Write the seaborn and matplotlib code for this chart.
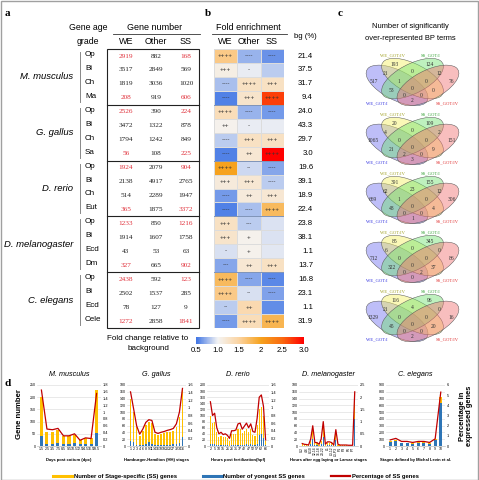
import numpy as np
import pandas as pd
import matplotlib
matplotlib.use("Agg")
import matplotlib.pyplot as plt
import seaborn as sns
from matplotlib.colors import LinearSegmentedColormap
from matplotlib.patches import Ellipse, Rectangle
from matplotlib.lines import Line2D

W, H = 479, 480

# ---------------- data: panel a ----------------
SPECIES = ["M. musculus", "G. gallus", "D. rerio", "D. melanogaster", "C. elegans"]
GRADES = [["Op", "Bi", "Ch", "Ma"], ["Op", "Bi", "Ch", "Sa"], ["Op", "Bi", "Ch", "Eut"],
          ["Op", "Bi", "Ecd", "Dm"], ["Op", "Bi", "Ecd", "Cele"]]
WE_N = [2919, 3517, 1819, 208, 2526, 3472, 1794, 56, 1924, 2138, 514, 365,
        1233, 1914, 43, 327, 2438, 2502, 78, 1272]
OTHER_N = [882, 2849, 3036, 919, 390, 1322, 1242, 108, 2079, 4917, 2289, 1875,
           850, 1607, 53, 665, 592, 1537, 127, 2858]
SS_N = [168, 569, 1020, 606, 224, 878, 849, 225, 904, 2765, 1947, 3372,
        1216, 1758, 63, 902, 123, 285, 9, 1841]

# ---------------- data: panel b ----------------
BG_PCT = ["21.4", "37.5", "31.7", "9.4", "24.0", "43.3", "29.7", "3.0", "19.6", "39.1",
          "18.9", "22.4", "23.8", "38.1", "1.1", "13.7", "16.8", "23.1", "1.1", "31.9"]
FOLD_WE = [1.6, 1.1, 0.8, 0.55, 1.35, 1.05, 0.85, 0.55, 2.0, 1.15, 0.65, 0.55,
           1.3, 1.25, 0.92, 0.7, 1.75, 1.6, 0.85, 0.65]
FOLD_OTHER = [0.75, 0.97, 1.3, 1.25, 0.75, 0.97, 1.3, 1.2, 0.9, 1.2, 1.15, 0.8,
              0.85, 1.05, 1.05, 1.2, 0.7, 0.92, 1.4, 1.35]
FOLD_SS = [0.62, 0.85, 1.3, 2.7, 0.65, 0.97, 1.3, 3.0, 0.7, 0.85, 1.2, 1.75,
           0.93, 0.93, 0.95, 1.3, 0.58, 0.68, 0.6, 1.8]
SIG_WE = ["++++", "+++", "----", "----", "++++", "++", "----", "----", "++++", "+++",
          "----", "----", "+++", "+++", "-", "---", "++++", "++++", "--", "----"]
SIG_OTHER = ["----", "-", "++++", "+++", "----", "-", "+++", "++", "--", "+++",
             "++", "----", "---", "+", "+", "++", "----", "--", "++", "++++"]
SIG_SS = ["----", "", "+++", "++++", "----", "", "+++", "++++", "----", "----",
          "+++", "++++", "", "", "", "+++", "----", "----", "", "++++"]
CBAR_TICKS = [0.5, 1.0, 1.5, 2.0, 2.5, 3.0]
CBAR_LABELS = ["0.5", "1.0", "1.5", "2", "2.5", "3.0"]

# ---------------- data: panel c ----------------
VENN_REGIONS = ["B", "Y", "G", "R", "BY", "YG", "GR", "BYG", "YGR", "BG", "BYGR", "YR", "BGR", "BYR", "BR"]
VENN_MUS = [517, 193, 124, 76, 21, 0, 12, 1, 0, 53, 0, 0, 0, 0, 2]
VENN_GAL = [1065, 20, 109, 151, 4, 0, 2, 0, 0, 21, 0, 9, 2, 0, 3]
VENN_RER = [669, 391, 155, 306, 62, 23, 12, 1, 0, 48, 0, 4, 0, 0, 1]
VENN_MEL = [712, 85, 345, 86, 6, 0, 0, 0, 0, 322, 0, 37, 0, 2, 0]
VENN_ELE = [1329, 116, 96, 16, 21, 4, 0, 0, 0, 45, 0, 20, 0, 0, 2]
VENN_SETS = ["WE_GOT:I", "WE_GOT:IV", "SS_GOT:I", "SS_GOT:IV"]

# ---------------- data: panel d ----------------
MUS_STAGES = ["1.5", "2.5", "3.5", "7.5", "8.5", "9.5", "10.5", "12.5", "14.5", "16.5", "18.5"]
MUS_SS = [200, 58, 58, 67, 40, 40, 44, 24, 31, 31, 228]
MUS_YOUNG = [42, 10, 10, 12, 10, 10, 12, 8, 8, 8, 55]
MUS_PCT = [1.65, 0.5, 0.48, 0.52, 0.3, 0.3, 0.36, 0.17, 0.24, 0.22, 1.55]

GAL_STAGES = ["1", "2", "3", "4", "6", "8", "9", "11", "14", "16", "18", "19",
              "20", "22", "27", "32", "34", "36"]
GAL_SS = [140, 100, 55, 30, 45, 62, 70, 68, 35, 32, 35, 38, 40, 42, 45, 55, 85, 165]
GAL_YOUNG = [14, 11, 4, 2, 4, 6, 13, 6, 3, 3, 3, 3, 4, 4, 5, 7, 10, 28]
GAL_PCT = [1.42, 0.98, 0.53, 0.31, 0.44, 0.62, 0.69, 0.67, 0.36, 0.33, 0.36, 0.38,
           0.41, 0.43, 0.46, 0.58, 0.89, 1.51]

RER_STAGES = ["2", "3", "5", "8", "10", "12", "15", "18", "21", "24", "26", "28", "31", "34",
              "37", "40", "42", "45", "47", "50", "52", "55", "57", "60", "62", "64", "66"]
RER_SS = [100, 75, 80, 45, 30, 33, 28, 30, 26, 18, 38, 38, 40, 55, 57, 42, 50, 57,
          45, 55, 36, 34, 68, 120, 128, 98, 15]
RER_YOUNG = [8, 5, 6, 3, 2, 2, 2, 2, 2, 1, 3, 3, 3, 4, 4, 3, 4, 5, 4, 5, 3, 3, 8, 35, 40, 25, 2]
RER_PCT = [1.16, 0.8, 0.86, 0.48, 0.32, 0.36, 0.3, 0.32, 0.28, 0.2, 0.4, 0.4, 0.42, 0.58,
           0.6, 0.44, 0.52, 0.6, 0.48, 0.58, 0.38, 0.36, 0.72, 1.28, 1.34, 1.04, 0.16]

MEL_STAGES = ["0-2", "2-4", "4-6", "6-8", "8-10", "10-12", "12-14", "14-16", "16-18",
              "18-20", "20-22", "22-24", "L1", "L2", "L3-12", "L3-P1", "L3-P3", "L3-P7",
              "P1", "P2", "P3", "P4", "P5", "P6", "P7", "Ad"]
MEL_SS = [5, 4, 3, 2, 15, 45, 8, 8, 4, 15, 60, 4, 10, 10, 8, 2, 40, 4, 2, 2, 2, 2, 1, 1, 1, 155]
MEL_YOUNG = [1, 1, 1, 1, 5, 20, 3, 3, 1, 5, 28, 1, 3, 3, 2, 1, 18, 1, 1, 1, 1, 1, 0, 0, 0, 80]
MEL_PCT = [0.1, 0.07, 0.06, 0.04, 0.28, 0.83, 0.14, 0.14, 0.07, 0.28, 1.0, 0.07, 0.17,
           0.17, 0.14, 0.04, 0.67, 0.07, 0.04, 0.04, 0.04, 0.04, 0.03, 0.03, 0.03, 2.22]

ELE_STAGES = ["1", "2", "3", "4", "5", "6", "7", "8", "9", "10"]
ELE_SS = [75, 90, 50, 50, 40, 55, 55, 40, 100, 720]
ELE_YOUNG = [65, 80, 45, 42, 35, 45, 48, 35, 90, 640]
ELE_PCT = [0.6, 0.75, 0.45, 0.45, 0.35, 0.45, 0.45, 0.35, 0.7, 5.3]

# ---------------- style ----------------
SANS = ["Liberation Sans", "DejaVu Sans"]
SERIF = ["Liberation Serif", "DejaVu Serif"]
plt.rcParams["font.family"] = SANS
RED_TXT = "#e0303a"
YELLOW = "#ffc000"
BLUE = "#2e75b6"
RED = "#c00000"

cmap = LinearSegmentedColormap.from_list(
    "fold", [(0.0, "#3f74e4"), (0.2, "#f4f4f4"), (0.4, "#fbd3a0"),
             (0.6, "#f6a21e"), (0.8, "#fa6a10"), (1.0, "#ff0000")])

fig = plt.figure(figsize=(W / 100, H / 100), dpi=100)


def px_axes(x0, y0, x1, y1, **kw):
    return fig.add_axes([x0 / W, 1 - y1 / H, (x1 - x0) / W, (y1 - y0) / H], **kw)


bg = fig.add_axes([0, 0, 1, 1], zorder=-5)
bg.set_xlim(0, W)
bg.set_ylim(H, 0)
bg.axis("off")
bg.add_patch(Rectangle((0.5, 0.5), W - 1, H - 1, fill=False, ec="#a0a0a0", lw=1))

for x, y, s in [(5, 14, "a"), (205, 14, "b"), (338, 14, "c"), (5, 384, "d")]:
    bg.text(x, y, s, fontsize=8, fontweight="bold", family=SERIF, va="center")

# ---------------- panel a: table ----------------
ROW0, ROWH = 56, 13.95
bg.text(88, 28, "Gene age", ha="center", va="center", fontsize=6.3)
bg.text(88, 41, "grade", ha="center", va="center", fontsize=6.3)
bg.text(155, 27, "Gene number", ha="center", va="center", fontsize=6.5)
bg.plot([113, 200], [34, 34], color="#333333", lw=0.6)
for x, s in zip([126, 156, 186], ["WE", "Other", "SS"]):
    bg.text(x, 42, s, ha="center", va="center", fontsize=6.5)
bg.add_patch(Rectangle((107, 49), 92, 20 * ROWH, fill=False, ec="#222222", lw=0.8))
for k in range(1, 5):
    bg.plot([107, 199], [49 + 4 * k * ROWH] * 2, color="#222222", lw=0.8)

for g, sp in enumerate(SPECIES):
    top = 49 + g * 4 * ROWH
    bg.text(73, top + 2 * ROWH, sp, ha="right", va="center", style="italic", fontsize=6.8)
    bg.plot([80, 80], [top + 3, top + 4 * ROWH - 3], color="#888888", lw=0.7)
    for r, gr in enumerate(GRADES[g]):
        bg.text(85, top + (r + 0.5) * ROWH - 1.5, gr, ha="left", va="center", fontsize=5.8)

for i in range(20):
    y = ROW0 + i * ROWH
    hl = i % 4 in (0, 3)
    for x, vals, red in [(126, WE_N, hl), (156, OTHER_N, False), (186, SS_N, hl)]:
        bg.text(x, y, str(vals[i]), color=RED_TXT if red else "#222222", family=SERIF,
                fontsize=5.2, ha="center", va="center")

bg.text(148, 338, "Fold change relative to", ha="center", va="center", fontsize=5.8)
bg.text(148, 349, "background", ha="center", va="center", fontsize=5.8)

# ---------------- panel b: heatmap ----------------
fold = pd.DataFrame({"WE": FOLD_WE, "Other": FOLD_OTHER, "SS": FOLD_SS})
sig = np.array([SIG_WE, SIG_OTHER, SIG_SS]).T
axh = px_axes(214, 49, 284, 49 + 20 * ROWH)
sns.heatmap(fold, ax=axh, cmap=cmap, vmin=0.5, vmax=3.0, annot=sig, fmt="", cbar=False,
            linewidths=0.5, linecolor="#dcdcdc",
            annot_kws={"size": 4.6, "color": "#333333"})
axh.set_xticks([])
axh.set_yticks([])
axh.set_xlabel("")
axh.set_ylabel("")
for k in range(1, 5):
    axh.axhline(4 * k, color="#7f93b8", lw=0.7)

bg.text(248, 27, "Fold enrichment", ha="center", va="center", fontsize=6.5)
bg.plot([212, 287], [34, 34], color="#333333", lw=0.6)
for x, s in zip([225, 249, 272], ["WE", "Other", "SS"]):
    bg.text(x, 42, s, ha="center", va="center", fontsize=6.5)
bg.text(305, 37, "bg (%)", ha="center", va="center", fontsize=5.6)
for i, v in enumerate(BG_PCT):
    bg.text(313, ROW0 + i * ROWH, v, ha="right", va="center", fontsize=5.6)

cax = px_axes(196, 337, 304, 344)
cb = fig.colorbar(axh.collections[0], cax=cax, orientation="horizontal")
cb.set_ticks(CBAR_TICKS)
cb.set_ticklabels(CBAR_LABELS)
cb.outline.set_visible(False)
cax.tick_params(labelsize=5.6, length=0, pad=2)

# ---------------- panel c: venns ----------------
bg.text(410, 27, "Number of significantly", ha="center", va="center", fontsize=5.4)
bg.text(410, 38, "over-represented BP terms", ha="center", va="center", fontsize=5.4)

VENN_FILL = ["#7070f0", "#f4f060", "#70e070", "#f07070"]
ELLIPSES = [((0.35, 0.47), -45), ((0.5, 0.57), -45), ((0.5, 0.57), 45), ((0.65, 0.47), 45)]
REGION_XY = {"B": (0.12, 0.53), "Y": (0.33, 0.78), "G": (0.67, 0.78), "R": (0.88, 0.53),
             "BY": (0.24, 0.645), "YG": (0.5, 0.67), "GR": (0.76, 0.645),
             "BYG": (0.37, 0.53), "YGR": (0.63, 0.53), "BG": (0.30, 0.39),
             "BYGR": (0.5, 0.42), "YR": (0.70, 0.39), "BGR": (0.42, 0.32),
             "BYR": (0.58, 0.32), "BR": (0.5, 0.245)}
LABEL_XY = [(0.15, 0.20, "#3030e0"), (0.31, 0.91, "#a0a020"),
            (0.68, 0.91, "#30a030"), (0.84, 0.20, "#e03030")]

for k, counts in enumerate([VENN_MUS, VENN_GAL, VENN_RER, VENN_MEL, VENN_ELE]):
    top = 53 + 59 * k
    axv = px_axes(361, top, 464, top + 57.3)
    axv.set_xlim(0, 1)
    axv.set_ylim(0.1, 0.95)
    axv.axis("off")
    for (c, ang), col in zip(ELLIPSES, VENN_FILL):
        axv.add_patch(Ellipse(c, 0.76, 0.38, angle=ang, fc=col, alpha=0.45, ec="none"))
        axv.add_patch(Ellipse(c, 0.76, 0.38, angle=ang, fill=False, ec="#555555", lw=0.35))
    for reg, n in zip(VENN_REGIONS, counts):
        x, y = REGION_XY[reg]
        axv.text(x, y, str(n), ha="center", va="center", fontsize=4.0, family=SERIF,
                 color="#333333")
    for (x, y, col), name in zip(LABEL_XY, VENN_SETS):
        axv.text(x, y, name, ha="center", va="center", fontsize=3.3, family=SERIF, color=col)

# ---------------- panel d: stage profiles ----------------
PANELS = [
    ("M. musculus", MUS_STAGES, MUS_SS, MUS_YOUNG, MUS_PCT, (37, 101), 250, 50, 1.8, 0.2,
     "Days post coitum (dpc)"),
    ("G. gallus", GAL_STAGES, GAL_SS, GAL_YOUNG, GAL_PCT, (127, 186), 180, 20, 1.6, 0.2,
     "Hamburger-Hamilton (HH) stages"),
    ("D. rerio", RER_STAGES, RER_SS, RER_YOUNG, RER_PCT, (207, 269), 200, 20, 1.6, 0.2,
     "Hours post fertilization(hpf)"),
    ("D. melanogaster", MEL_STAGES, MEL_SS, MEL_YOUNG, MEL_PCT, (299, 358), 180, 20, 2.5, 0.5,
     "Hours after egg laying or Larvae stages"),
    ("C. elegans", ELE_STAGES, ELE_SS, ELE_YOUNG, ELE_PCT, (386, 445), 900, 100, 6, 1,
     "Stages defined by Michal Levin et al."),
]

for title, stages, ss, young, pct, (x0, x1), ymax, ystep, pmax, pstep, xlab in PANELS:
    ax = px_axes(x0, 385, x1, 446)
    ax.set_facecolor("none")
    n = len(stages)
    df = pd.DataFrame({"stage": stages * 2, "genes": ss + young,
                       "kind": ["SS"] * n + ["Youngest"] * n})
    sns.barplot(data=df, x="stage", y="genes", hue="kind", order=stages,
                hue_order=["SS", "Youngest"], palette=[YELLOW, BLUE], ax=ax,
                legend=False, errorbar=None, width=0.55, saturation=1, dodge=False)
    ax.set_ylim(0, ymax)
    ax.set_yticks(np.arange(0, ymax + 1, ystep))
    ax.yaxis.grid(True, color="#d9d9d9", lw=0.4)
    ax.set_axisbelow(True)
    ax.set_xlabel("")
    ax.set_ylabel("")
    for s in ax.spines.values():
        s.set_visible(False)
    ax.spines["bottom"].set_visible(True)
    ax.spines["bottom"].set_color("#bfbfbf")
    ax.spines["bottom"].set_linewidth(0.5)
    ax.tick_params(labelsize=2.6, length=0, pad=1)
    if title in ("D. rerio", "D. melanogaster"):
        ax.set_xticks(range(0, n, 2))
        ax.set_xticklabels(stages[::2])
    if title == "D. melanogaster":
        ax.tick_params(axis="x", labelrotation=90, labelsize=2.4, pad=0.5)

    ax2 = ax.twinx()
    ax2.plot(np.arange(n), pct, color=RED, lw=0.9)
    ax2.set_ylim(0, pmax)
    pt = np.round(np.arange(0, pmax + 1e-9, pstep), 2)
    ax2.set_yticks(pt)
    ax2.set_yticklabels([f"{v:g}" for v in pt])
    ax2.tick_params(labelsize=2.8, length=0, pad=1)
    for s in ax2.spines.values():
        s.set_visible(False)

    bg.text((x0 + x1) / 2, 374, title, ha="center", va="center", style="italic", fontsize=5.2)
    bg.text((x0 + x1) / 2, 460.5, xlab, ha="center", va="center", fontweight="bold", fontsize=3.0)

bg.text(20, 414, "Gene number", rotation=90, ha="center", va="center",
        fontweight="bold", fontsize=5.6)
bg.text(466, 416, "Percentage in\nexpressed genes", rotation=90, ha="center", va="center",
        fontweight="bold", fontsize=5.4, linespacing=1.1)

handles = [Line2D([], [], color=YELLOW, lw=2.2), Line2D([], [], color=BLUE, lw=2.2),
           Line2D([], [], color=RED, lw=1.6)]
fig.legend(handles, ["Number of Stage-specific (SS) genes", "Number of yongest SS genes",
                     "Percentage of SS genes"],
           loc="center", bbox_to_anchor=(236 / W, 1 - 476 / H), ncol=3, frameon=False,
           prop={"size": 4.2, "weight": "bold"}, handlelength=3.2, columnspacing=4.5,
           handletextpad=0.3)

fig.savefig("out.png", dpi=100)
